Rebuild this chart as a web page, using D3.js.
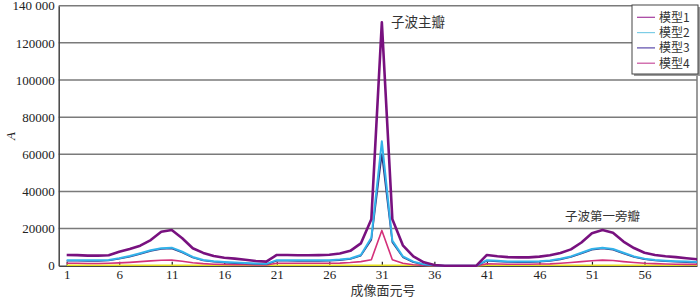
<!DOCTYPE html>
<html>
<head>
<meta charset="utf-8">
<script src="https://cdn.jsdelivr.net/npm/d3@7"></script>
<style>
  body { margin: 0; background: #fff; }
  svg { display: block; }
  .tick text { font-family: "Liberation Serif", serif; font-size: 13px; fill: #222; }
  .cjk { font-family: "Noto Sans CJK SC", sans-serif; fill: #333; }
</style>
</head>
<body>
<svg id="chart" width="700" height="299"></svg>
<script>
// imaging bin index 1..61
const bins = d3.range(1, 62);

const model1 = [5800, 5700, 5400, 5400, 5600, 7500, 9000, 10800, 13800, 18300,
                19200, 14800, 9400, 6900, 5200, 4300, 3800, 3200, 2500, 2200,
                5800, 5800, 5600, 5600, 5700, 5900, 6600, 8000, 12000, 25000,
                131000, 25000, 11000, 5000, 1800, 400, 0, 0, 0, 0,
                5800, 5100, 4600, 4500, 4500, 4900, 5600, 6800, 8800, 12500,
                17500, 19200, 17800, 13000, 9500, 7000, 5800, 5100, 4600, 4000, 3500];

const model2 = [3000, 3000, 2900, 2900, 3100, 4000, 5200, 6700, 8300, 9400,
                9700, 7500, 4700, 3100, 2400, 2000, 1700, 1400, 1200, 1000,
                3000, 3000, 2900, 2900, 2900, 3000, 3300, 3900, 5800, 15000,
                67000, 13500, 5000, 2200, 800, 200, 0, 0, 0, 0,
                3000, 2600, 2300, 2200, 2200, 2400, 2800, 3700, 5000, 7000,
                9000, 9700, 9000, 7000, 5000, 3800, 3100, 2700, 2400, 2200, 2000];

const model3 = [2700, 2700, 2600, 2600, 2800, 3700, 4900, 6300, 7900, 9000,
                9300, 7100, 4400, 2800, 2100, 1700, 1400, 1200, 1000, 800,
                2700, 2700, 2600, 2600, 2600, 2700, 3000, 3600, 5400, 14000,
                60000, 12600, 4600, 1900, 600, 100, 0, 0, 0, 0,
                2700, 2300, 2000, 1900, 1900, 2100, 2500, 3400, 4700, 6600,
                8600, 9300, 8600, 6600, 4700, 3500, 2800, 2400, 2100, 1900, 1700];

const model4 = [1300, 1300, 1200, 1200, 1300, 1500, 1800, 2200, 2600, 2900,
                3000, 2400, 1600, 1100, 800, 700, 600, 500, 400, 400,
                1300, 1300, 1300, 1300, 1300, 1300, 1400, 1700, 2200, 3200,
                19000, 3200, 1300, 500, 200, 0, 0, 0, 0, 0,
                1000, 900, 800, 800, 800, 900, 1000, 1300, 1700, 2200,
                2700, 3000, 2800, 2200, 1700, 1300, 1100, 900, 800, 700, 700];

// faint yellow trace lying on the axis
const baseline = [300, 300, 300, 300, 300, 300, 300, 300, 300, 300,
                  300, 300, 300, 300, 300, 300, 300, 300, 300, 300,
                  300, 300, 300, 300, 300, 300, 300, 300, 300, 300,
                  300, 300, 300, 300, 200, 0, 0, 0, 0, 0,
                  300, 300, 300, 300, 300, 300, 300, 300, 300, 300,
                  300, 300, 300, 300, 300, 300, 300, 300, 300, 300, 300];

const seriesNames = ['模型1', '模型2', '模型3', '模型4'];
const yTicks = [0, 20000, 40000, 60000, 80000, 100000, 120000, 140000];
const xTicks = [1, 6, 11, 16, 21, 26, 31, 36, 41, 46, 51, 56];

const svg = d3.select('#chart');
const plotL = 58.7, plotR = 697, plotT = 5.7, plotB = 265.7;

const x = d3.scaleLinear().domain([0.24, 61]).range([plotL, plotR]);
const y = d3.scaleLinear().domain([0, 140000]).range([plotB, plotT]);

// grid
svg.append('g')
    .selectAll('line')
    .data(yTicks.slice(1))
    .join('line')
    .attr('x1', plotL).attr('x2', plotR)
    .attr('y1', d => y(d)).attr('y2', d => y(d))
    .attr('stroke', '#7a7a7a')
    .attr('stroke-width', 1.5);

svg.append('line')
    .attr('x1', plotR).attr('x2', plotR)
    .attr('y1', plotT).attr('y2', plotB)
    .attr('stroke', '#7a7a7a').attr('stroke-width', 1.5);

// y axis
const yAxis = svg.append('g')
    .attr('transform', `translate(${plotL},0)`)
    .call(d3.axisLeft(y)
        .tickValues(yTicks)
        .tickSize(0)
        .tickPadding(4)
        .tickFormat(d => d == 140000 ? '140 000' : d3.format('d')(d)));
yAxis.select('.domain').attr('stroke', '#444').attr('stroke-width', 1.5);

// x axis, ticks point up into the plot
const xAxis = svg.append('g')
    .attr('transform', `translate(0,${plotB})`)
    .call(d3.axisBottom(x)
        .tickValues(xTicks)
        .tickSizeInner(-4)
        .tickSizeOuter(0)
        .tickPadding(4));
xAxis.select('.domain').attr('stroke', '#444').attr('stroke-width', 1.5);
xAxis.selectAll('.tick line').attr('stroke', '#222').attr('stroke-width', 1.2);

svg.append('text')
    .attr('class', 'cjk')
    .attr('x', 383).attr('y', 295)
    .attr('text-anchor', 'middle')
    .attr('font-size', 13)
    .text('成像面元号');

svg.append('text')
    .attr('transform', 'translate(15,136) rotate(-90)')
    .attr('text-anchor', 'middle')
    .attr('font-family', 'Liberation Serif, serif')
    .attr('font-style', 'italic')
    .attr('font-size', 13)
    .attr('fill', '#222')
    .text('A');

// lines
const line = d3.line()
    .x((d, i) => x(bins[i]))
    .y(d => y(d));

const drawn = [
    {values: baseline, color: '#e6e020', width: 1.5},
    {values: model4, color: '#d4307a', width: 1.6},
    {values: model3, color: '#34357e', width: 1.6},
    {values: model2, color: '#33b2ea', width: 2},
    {values: model1, color: '#78117f', width: 2.6}
];

svg.append('g')
    .selectAll('path')
    .data(drawn)
    .join('path')
    .attr('d', d => line(d.values))
    .attr('fill', 'none')
    .attr('stroke', d => d.color)
    .attr('stroke-width', d => d.width)
    .attr('stroke-linejoin', 'round');

// annotations
svg.append('text')
    .attr('class', 'cjk')
    .attr('x', 391).attr('y', 27)
    .attr('font-size', 13.5)
    .text('子波主瓣');

svg.append('text')
    .attr('class', 'cjk')
    .attr('x', 565).attr('y', 221)
    .attr('font-size', 12.5)
    .text('子波第一旁瓣');

// legend
const legendColors = ['#a43c9e', '#7ccde6', '#5a48aa', '#c84e9c'];
const lg = svg.append('g').attr('transform', 'translate(632,5)');
lg.append('rect')
    .attr('x', 2).attr('y', 2).attr('width', 66).attr('height', 69)
    .attr('fill', '#9a9a9a');
lg.append('rect')
    .attr('x', 0).attr('y', 0).attr('width', 66).attr('height', 69)
    .attr('fill', '#fff').attr('stroke', '#444').attr('stroke-width', 1);

const item = lg.selectAll('g.item')
    .data(seriesNames)
    .join('g')
    .attr('class', 'item')
    .attr('transform', (d, i) => `translate(0,${12.3 + i * 15.3})`);
item.append('line')
    .attr('x1', 5).attr('x2', 23)
    .attr('stroke', (d, i) => legendColors[i])
    .attr('stroke-width', 1.2);
item.append('text')
    .attr('class', 'cjk')
    .attr('x', 27).attr('y', 4.5)
    .attr('font-size', 12)
    .text(d => d);
</script>
</body>
</html>
